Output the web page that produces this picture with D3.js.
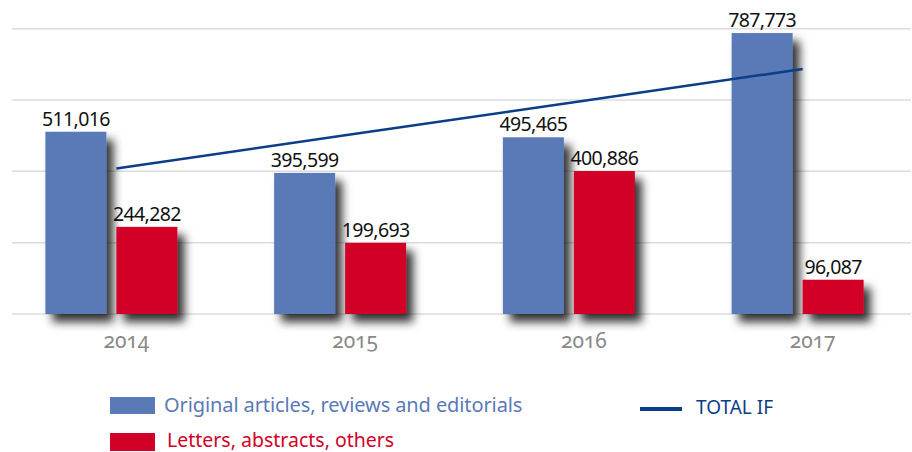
<!DOCTYPE html>
<html>
<head>
<meta charset="utf-8">
<script src="https://cdn.jsdelivr.net/npm/d3@7"></script>
<style>
  body { margin: 0; background: #fff; }
  text { font-family: "Noto Sans", "Open Sans", sans-serif; }
</style>
</head>
<body>
<svg id="chart" width="912" height="452"></svg>
<script>
// values
let years = ['2014', '2015', '2016', '2017'];
let articles = [511.016, 395.599, 495.465, 787.773];
let letters = [244.282, 199.693, 400.886, 96.087];
let totalIF = [408, 501, 594, 687];
let gridTicks = [0, 200, 400, 600, 800];

let svg = d3.select('#chart');

let fmt = d3.formatLocale({decimal: ',', thousands: '.', grouping: [3], currency: ['', '']}).format('.3f');

let x0 = d3.scaleBand()
  .domain(years)
  .range([-3, 912]);
let x1 = d3.scaleBand()
  .domain(['articles', 'letters'])
  .range([x0.bandwidth()/2 - 66, x0.bandwidth()/2 + 66])
  .paddingInner(0.141);
let y = d3.scaleLinear()
  .domain([0, 800])
  .range([314, 28.7]);

// shadow
let defs = svg.append('defs');
let f = defs.append('filter').attr('id', 'shadow')
  .attr('x', '-40%').attr('y', '-40%').attr('width', '190%').attr('height', '190%');
f.append('feDropShadow')
  .attr('dx', 7).attr('dy', 8)
  .attr('stdDeviation', 5)
  .attr('flood-color', '#000')
  .attr('flood-opacity', 0.8);

// gridlines
svg.append('g')
  .selectAll('line')
  .data(gridTicks)
  .join('line')
  .attr('x1', 12)
  .attr('x2', 911)
  .attr('y1', function(d){return y(d)})
  .attr('y2', function(d){return y(d)})
  .attr('stroke', '#dcdcdc')
  .attr('stroke-width', 1.5);

let rows = years.map(function(yr, i) {
  return [
    {year: yr, key: 'articles', v: articles[i], color: '#5a79b7'},
    {year: yr, key: 'letters', v: letters[i], color: '#d20027'}
  ];
}).flat();

svg.append('g')
  .selectAll('rect')
  .data(rows)
  .join('rect')
  .attr('x', function(d){return x0(d.year) + x1(d.key)})
  .attr('width', x1.bandwidth())
  .attr('y', function(d){return y(d.v)})
  .attr('height', function(d){return y(0) - y(d.v)})
  .attr('fill', function(d){return d.color})
  .attr('filter', 'url(#shadow)');

// value labels
svg.append('g')
  .selectAll('text')
  .data(rows)
  .join('text')
  .attr('x', function(d){return x0(d.year) + x1(d.key) + x1.bandwidth()/2})
  .attr('y', function(d){return y(d.v) - 6})
  .attr('text-anchor', 'middle')
  .attr('font-size', 19.5)
  .attr('letter-spacing', -0.6)
  .attr('fill', '#111')
  .text(function(d){return fmt(d.v)});

// trend line
let line = d3.line()
  .x(function(d, i){return x0(years[i]) + x1('letters')})
  .y(function(d){return y(d)});
svg.append('path')
  .datum(totalIF)
  .attr('d', line)
  .attr('fill', 'none')
  .attr('stroke', '#0b3d89')
  .attr('stroke-width', 2.5);

// x axis labels
svg.append('g')
  .selectAll('text')
  .data(years)
  .join('text')
  .attr('x', function(d){return x0(d) + x0.bandwidth()/2 + 15})
  .attr('y', 348)
  .attr('text-anchor', 'middle')
  .attr('font-size', 21)
  .attr('fill', '#888')
  .style('font-variant-numeric', 'oldstyle-nums')
  .text(function(d){return d});

// legend
let legend = svg.append('g');
legend.append('rect').attr('x', 110).attr('y', 397).attr('width', 45).attr('height', 17).attr('fill', '#5a79b7');
legend.append('text').attr('x', 164).attr('y', 412).attr('font-size', 20).attr('letter-spacing', -0.1).attr('fill', '#5a79b7')
  .text('Original articles, reviews and editorials');
legend.append('rect').attr('x', 110).attr('y', 433).attr('width', 45).attr('height', 18).attr('fill', '#d20027');
legend.append('text').attr('x', 167).attr('y', 447).attr('font-size', 19.5).attr('fill', '#d20027')
  .text('Letters, abstracts, others');
legend.append('line').attr('x1', 640).attr('x2', 682).attr('y1', 409).attr('y2', 409)
  .attr('stroke', '#0b3d89').attr('stroke-width', 4);
legend.append('text').attr('x', 696).attr('y', 414).attr('font-size', 19).attr('fill', '#0b3d89')
  .text('TOTAL IF');
</script>
</body>
</html>
